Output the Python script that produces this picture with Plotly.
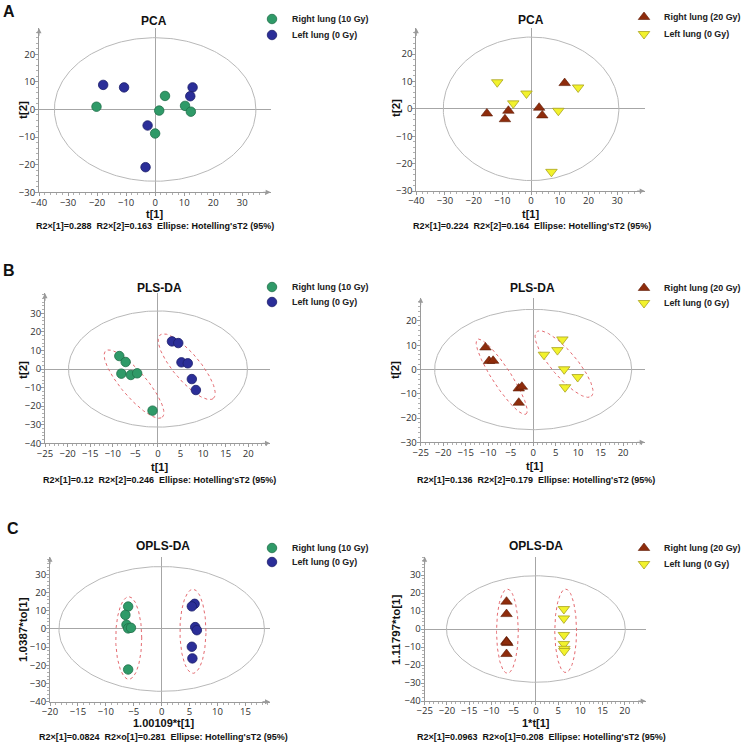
import numpy as np
import plotly.graph_objects as go

W, H = 746, 742

# ---------------- data ----------------
# A  PCA (10 Gy study)
pca10_right_x = [-20.2, 3.4, 1.4, 10.3, 12.3, 0.0]
pca10_right_y = [1.0, 4.9, -0.4, 1.3, -0.8, -8.7]
pca10_left_x = [-17.9, -10.7, 12.9, 12.1, -2.6, -3.3]
pca10_left_y = [8.9, 8.0, 8.0, 4.8, -5.8, -20.9]
# A  PCA (20 Gy study)
pca20_right_x = [-15.4, -9.1, -7.9, 2.8, 3.9, 11.7]
pca20_right_y = [-1.7, -3.8, -0.7, 0.4, -2.4, 9.4]
pca20_left_x = [-11.8, -1.6, -6.2, 9.5, 16.4, 7.1]
pca20_left_y = [9.7, 5.6, 2.0, -0.7, 7.8, -23.0]
# B  PLS-DA (10 Gy)
pls10_right_x = [-8.55, -7.15, -8.1, -6.0, -4.6, -1.2]
pls10_right_y = [7.0, 3.8, -2.5, -3.2, -2.3, -22.4]
pls10_left_x = [3.1, 4.5, 5.2, 6.6, 7.5, 8.4]
pls10_left_y = [14.9, 14.0, 3.6, 3.1, -5.4, -11.3]
# B  PLS-DA (20 Gy)
pls20_right_x = [-10.6, -9.8, -8.9, -3.2, -2.5, -3.2]
pls20_right_y = [9.1, 3.5, 3.6, -7.8, -7.1, -13.7]
pls20_left_x = [6.5, 5.4, 2.4, 6.9, 9.9, 7.1]
pls20_left_y = [12.4, 8.0, 6.1, 0.1, -3.1, -7.3]
# C  OPLS-DA (10 Gy)
opls10_right_x = [-6.0, -6.5, -6.3, -6.0, -5.5, -6.0]
opls10_right_y = [12.3, 7.7, 2.3, 0.3, 0.6, -22.3]
opls10_left_x = [5.9, 5.4, 6.0, 6.3, 5.4, 5.5]
opls10_left_y = [13.8, 12.4, 1.0, -0.7, -9.8, -16.2]
# C  OPLS-DA (20 Gy)
opls20_right_x = [-6.6, -6.6, -6.6, -6.4, -6.6, -6.6]
opls20_right_y = [15.2, 8.3, -6.8, -7.8, -7.3, -13.9]
opls20_left_x = [6.3, 6.3, 6.3, 6.3, 6.4, 6.4]
opls20_left_y = [11.1, 5.9, -3.3, -8.3, -11.0, -12.2]

# Hotelling T2 (95%) ellipse radii per panel (rx, ry)
hot_A1 = (34.7, 26.0)
hot_A2 = (30.6, 26.2)
hot_B1 = (19.8, 31.3)
hot_B2 = (21.9, 24.8)
hot_C1 = (18.4, 34.3)
hot_C2 = (20.1, 29.6)

# group confidence ellipses: centre, semi-axis vector u, semi-axis vector v
grp_B1 = [((-5.3, -8.1), (6.26, -17.9), (2.15, 4.42)),
          ((6.35, 1.25), (5.9, -17.1), (2.26, 4.63))]
grp_B2 = [((-7.0, -3.0), (5.4, -15.4), (1.73, 2.1)),
          ((6.87, 2.26), (6.07, -13.3), (2.16, 3.38))]
grp_C1 = [((-5.9, -5.0), (2.33, 0.0), (0.0, 22.7)),
          ((5.6, -1.3), (2.33, 0.0), (0.0, 23.1))]
grp_C2 = [((-6.4, -1.2), (2.45, 0.0), (0.0, 23.4)),
          ((6.7, -1.0), (2.45, 0.0), (0.0, 23.2))]

ticks_A_x = [-40, -30, -20, -10, 0, 10, 20, 30]
ticks_A_y = [-30, -20, -10, 0, 10, 20]
ticks_B1_x = [-25, -20, -15, -10, -5, 0, 5, 10, 15, 20]
ticks_B1_y = [-40, -30, -20, -10, 0, 10, 20, 30]
ticks_B2_x = [-25, -20, -15, -10, -5, 0, 5, 10, 15, 20]
ticks_B2_y = [-30, -20, -10, 0, 10, 20]
ticks_C1_x = [-20, -15, -10, -5, 0, 5, 10, 15]
ticks_C1_y = [-40, -30, -20, -10, 0, 10, 20, 30]
ticks_C2_x = [-25, -20, -15, -10, -5, 0, 5, 10, 15, 20]
ticks_C2_y = [-40, -30, -20, -10, 0, 10, 20, 30]

lab_10_right = "Right lung (10 Gy)"
lab_10_left = "Left lung (0 Gy)"
lab_20_right = "Right lung (20 Gy)"
lab_20_left = "Left lung (0 Gy)"

# ---------------- styles ----------------
GREEN = dict(color="#2f9a68", line=dict(color="#1f6e49", width=0.8), symbol="circle", size=9.5)
BLUE = dict(color="#2b2e98", line=dict(color="#1c1e6a", width=0.8), symbol="circle", size=9.5)
BROWN = dict(color="#8e2c0c", line=dict(color="#5e1b05", width=0.6), symbol="triangle-up", size=10)
YELLOW = dict(color="#f2f22c", line=dict(color="#a8a21e", width=0.8), symbol="triangle-down", size=10)

AXC = "#9a9a9a"
TICKFONT = dict(family="Open Sans, Noto Sans, sans-serif", size=9.5, color="#303030")
BOLD = "Liberation Sans, Arial, sans-serif"

# panel layout: (x px left, x px right, y px top, y px bottom, xrange, yrange, xticks, yticks, minor dx, minor dy)
panels = [
    (39.0, 270.7, 28.3, 192.3, [-40, 39.8], [-30, 29.4], ticks_A_x, ticks_A_y, 2, 2),
    (416.3, 644.7, 28.3, 191.0, [-40, 39.6], [-30, 29.4], ticks_A_x, ticks_A_y, 2, 2),
    (45.0, 270.0, 293.3, 443.3, [-25, 24.8], [-40, 40.8], ticks_B1_x, ticks_B1_y, 1, 2),
    (420.7, 644.7, 297.7, 442.3, [-25, 24.8], [-30, 29.6], ticks_B2_x, ticks_B2_y, 1, 2),
    (50.0, 270.0, 556.7, 701.7, [-20, 19.4], [-40, 39.7], ticks_C1_x, ticks_C1_y, 1, 2),
    (424.7, 645.7, 556.7, 701.0, [-25, 24.7], [-40, 40.2], ticks_C2_x, ticks_C2_y, 1, 2),
]

fig = go.Figure()
layout = dict(width=W, height=H, margin=dict(l=0, r=0, t=0, b=0, autoexpand=False),
              paper_bgcolor="white", plot_bgcolor="white", showlegend=True)

annotations = []

def px2paper(x, y):
    return x / W, 1 - y / H

for i, (xl, xr, yt, yb, xrng, yrng, xt, yt_ticks, mdx, mdy) in enumerate(panels):
    n = "" if i == 0 else str(i + 1)
    ax_common = dict(showline=True, linecolor=AXC, linewidth=1, ticks="outside", ticklen=3,
                     tickcolor=AXC, tickfont=TICKFONT, zeroline=True, zerolinecolor="#a6a6a6",
                     zerolinewidth=1, showgrid=False, fixedrange=True, ticklabelstandoff=-2)
    layout["xaxis" + n] = dict(ax_common, domain=[xl / W, xr / W], range=xrng, anchor="y" + n,
                               tickmode="array", tickvals=xt,
                               minor=dict(ticks="outside", ticklen=2, tickcolor="#b0b0b0",
                                          tickmode="linear", tick0=xrng[0], dtick=mdx, showgrid=False))
    layout["yaxis" + n] = dict(ax_common, domain=[1 - yb / H, 1 - yt / H], range=yrng, anchor="x" + n,
                               tickmode="array", tickvals=yt_ticks,
                               minor=dict(ticks="outside", ticklen=2, tickcolor="#b0b0b0",
                                          tickmode="linear", tick0=yrng[0], dtick=mdy, showgrid=False))
    # axis arrowheads
    annotations.append(dict(x=xrng[1], y=yrng[0], xref="x" + n, yref="y" + n, text="",
                            showarrow=True, ax=-9, ay=0, arrowhead=2, arrowsize=1,
                            arrowwidth=1, arrowcolor=AXC))
    annotations.append(dict(x=xrng[0], y=yrng[1], xref="x" + n, yref="y" + n, text="",
                            showarrow=True, ax=0, ay=9, arrowhead=2, arrowsize=1,
                            arrowwidth=1, arrowcolor=AXC))

t = np.linspace(0, 2 * np.pi, 241)

def hot_trace(rad, n):
    rx, ry = rad
    return go.Scatter(x=rx * np.cos(t), y=ry * np.sin(t), mode="lines",
                      line=dict(color="#b8b8b8", width=1), hoverinfo="skip",
                      showlegend=False, xaxis="x" + n, yaxis="y" + n)

def grp_trace(g, n):
    (cx, cy), (ux, uy), (vx, vy) = g
    return go.Scatter(x=cx + ux * np.cos(t) + vx * np.sin(t),
                      y=cy + uy * np.cos(t) + vy * np.sin(t), mode="lines",
                      line=dict(color="#e46a70", width=1, dash="dot"), hoverinfo="skip",
                      showlegend=False, xaxis="x" + n, yaxis="y" + n)

series = [
    ("", hot_A1, [], (pca10_right_x, pca10_right_y, GREEN, lab_10_right), (pca10_left_x, pca10_left_y, BLUE, lab_10_left)),
    ("2", hot_A2, [], (pca20_right_x, pca20_right_y, BROWN, lab_20_right), (pca20_left_x, pca20_left_y, YELLOW, lab_20_left)),
    ("3", hot_B1, grp_B1, (pls10_right_x, pls10_right_y, GREEN, lab_10_right), (pls10_left_x, pls10_left_y, BLUE, lab_10_left)),
    ("4", hot_B2, grp_B2, (pls20_right_x, pls20_right_y, BROWN, lab_20_right), (pls20_left_x, pls20_left_y, YELLOW, lab_20_left)),
    ("5", hot_C1, grp_C1, (opls10_right_x, opls10_right_y, GREEN, lab_10_right), (opls10_left_x, opls10_left_y, BLUE, lab_10_left)),
    ("6", hot_C2, grp_C2, (opls20_right_x, opls20_right_y, BROWN, lab_20_right), (opls20_left_x, opls20_left_y, YELLOW, lab_20_left)),
]

# legend anchor (text start px, first entry centre y px, second entry centre y px)
leg_pos = [(292, 19, 35), (664, 17, 34), (292, 287, 302), (664, 288, 303), (292, 548, 562), (664, 548, 564)]

legend_idx = 1
for k, (n, hot, grps, s1, s2) in enumerate(series):
    fig.add_trace(hot_trace(hot, n))
    for g in grps:
        fig.add_trace(grp_trace(g, n))
    tx, y1, y2 = leg_pos[k]
    for (xs, ys, st, lab), yy in ((s1, y1), (s2, y2)):
        lname = "legend" if legend_idx == 1 else "legend" + str(legend_idx)
        fig.add_trace(go.Scatter(x=xs, y=ys, mode="markers", marker=st, name=lab,
                                 xaxis="x" + n, yaxis="y" + n, legend=lname, hoverinfo="skip"))
        px, py = px2paper(tx - 40, yy)
        layout[lname] = dict(x=px, y=py, xanchor="left", yanchor="middle", bgcolor="rgba(0,0,0,0)",
                             borderwidth=0, font=dict(family=BOLD, size=8.9, color="#202020", weight="bold"),
                             itemsizing="trace")
        legend_idx += 1

def txt(s, x, y, size, angle=0, bold=True):
    px, py = px2paper(x, y)
    annotations.append(dict(text=s, x=px, y=py, xref="paper", yref="paper", showarrow=False,
                            xanchor="center", yanchor="middle", textangle=angle,
                            font=dict(family=BOLD, size=size, color="#111111",
                                      weight="bold" if bold else "normal")))

# panel letters
txt("A", 9, 12, 16)
txt("B", 9, 270, 16)
txt("C", 12.5, 528, 16)
# titles
for s, x, y in [("PCA", 154, 21), ("PCA", 531, 20), ("PLS-DA", 159, 288), ("PLS-DA", 532, 288),
                ("OPLS-DA", 163, 546), ("OPLS-DA", 536, 546)]:
    txt(s, x, y, 12)
# x axis titles
for s, x, y in [("t[1]", 154, 213.5), ("t[1]", 530, 213.5), ("t[1]", 159, 466.5), ("t[1]", 534, 466),
                ("1.00109*t[1]", 163, 722.5), ("1*t[1]", 536, 723)]:
    txt(s, x, y, 11)
# y axis titles
for s, x, y in [("t[2]", 23, 110), ("t[2]", 396, 108), ("t[2]", 23, 370), ("t[2]", 395, 370),
                ("1.0387*to[1]", 23, 630), ("1.11797*to[1]", 396, 630)]:
    txt(s, x, y, 11.5, angle=-90)
# footers
sp = "\u00a0\u00a0"
foot = [("R2×[1]=0.288" + sp + "R2×[2]=0.163" + sp + "Ellipse: Hotelling'sT2 (95%)", 155, 225.5),
        ("R2×[1]=0.224" + sp + "R2×[2]=0.164" + sp + "Ellipse: Hotelling'sT2 (95%)", 532, 225.5),
        ("R2×[1]=0.12" + sp + "R2×[2]=0.246" + sp + "Ellipse: Hotelling'sT2 (95%)", 159, 480),
        ("R2×[1]=0.136" + sp + "R2×[2]=0.179" + sp + "Ellipse: Hotelling'sT2 (95%)", 536, 479.5),
        ("R2×[1]=0.0824" + sp + "R2×o[1]=0.281" + sp + "Ellipse: Hotelling'sT2 (95%)", 163, 737),
        ("R2×[1]=0.0963" + sp + "R2×o[1]=0.208" + sp + "Ellipse: Hotelling'sT2 (95%)", 541, 737)]
for s, x, y in foot:
    txt(s, x, y, 9)

layout["annotations"] = annotations
fig.update_layout(**layout)
fig.write_html("out.html", config={"displayModeBar": False},
               post_script="document.body.style.margin='0';document.body.style.overflow='hidden';")
